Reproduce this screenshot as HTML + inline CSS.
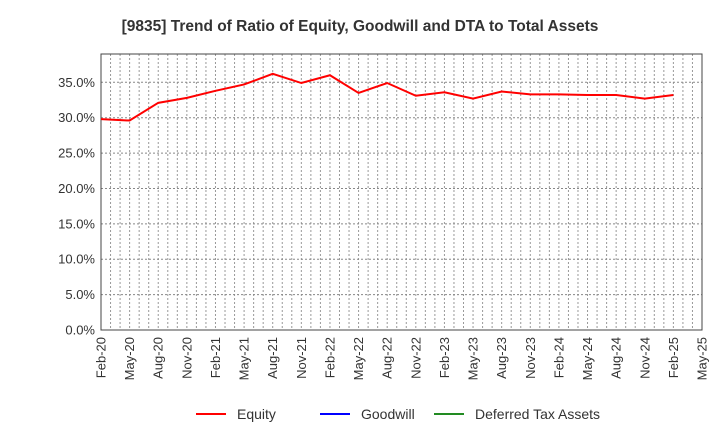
<!DOCTYPE html>
<html><head><meta charset="utf-8"><style>
body{margin:0;background:#fff;font-family:"Liberation Sans",sans-serif}
</style></head><body>
<svg width="720" height="440" xmlns="http://www.w3.org/2000/svg">
<text x="360" y="31" text-anchor="middle" font-size="15.5" font-weight="bold" fill="#333">[9835]  Trend of Ratio of Equity, Goodwill and DTA to Total Assets</text>
<g id="grid"></g>
<g id="axes"></g>
<g id="series"></g>
<g font-size="14" fill="#333">
<line x1="196" y1="414" x2="226" y2="414" stroke="#ff0000" stroke-width="2"/>
<text x="237" y="419">Equity</text>
<line x1="320" y1="414" x2="350" y2="414" stroke="#0000ff" stroke-width="2"/>
<text x="361" y="419">Goodwill</text>
<line x1="434" y1="414" x2="464" y2="414" stroke="#228b22" stroke-width="2"/>
<text x="475" y="419">Deferred Tax Assets</text>
</g>
</svg>
<script>
const categories=["Feb-20","May-20","Aug-20","Nov-20","Feb-21","May-21","Aug-21","Nov-21","Feb-22","May-22","Aug-22","Nov-22","Feb-23","May-23","Aug-23","Nov-23","Feb-24","May-24","Aug-24","Nov-24","Feb-25","May-25"];
const equity=[29.8,29.6,32.1,32.8,33.8,34.7,36.2,34.9,36.0,33.5,34.9,33.1,33.6,32.7,33.7,33.3,33.3,33.2,33.2,32.7,33.2];
const yTicks=[0,5,10,15,20,25,30,35];
const L=101,R=702,T=54,B=330,YMAX=39;
const ns="http://www.w3.org/2000/svg";
const x=i=>L+(R-L)*i/(categories.length-1);
const y=v=>B-(B-T)*v/YMAX;
function mk(tag,attrs,parent){const e=document.createElementNS(ns,tag);for(const k in attrs)e.setAttribute(k,attrs[k]);document.getElementById(parent).appendChild(e);return e;}
for(let m=1;m<(categories.length-1)*3;m++){
 const xx=L+(R-L)*m/((categories.length-1)*3);
 const g=mk("line",{x1:xx,x2:xx,y1:T,y2:B,stroke:"#999","stroke-dasharray":"2,2","stroke-width":1},"grid");
 
 
}
yTicks.forEach(v=>{
 if(v>0){const g=mk("line",{x1:L,x2:R,y1:y(v),y2:y(v),stroke:"#888","stroke-dasharray":"2,2","stroke-width":1},"grid");
 
 }
 const t=mk("text",{x:L-6,y:y(v)+4.5,"text-anchor":"end","font-size":13,fill:"#333"},"axes");
 t.textContent=v.toFixed(1)+"%";
 
 
});
const fr=mk("rect",{x:L,y:T,width:R-L,height:B-T,fill:"none",stroke:"#444","stroke-width":1},"axes");


categories.forEach((c,i)=>{
 const t=mk("text",{transform:`translate(${x(i)+4.5},337) rotate(-90)`,"text-anchor":"end","font-size":13,fill:"#333"},"axes");
 t.textContent=c;
 
 
});
const p=mk("polyline",{points:equity.map((v,i)=>x(i)+","+y(v)).join(" "),fill:"none",stroke:"#ff0000","stroke-width":2},"series");


</script>
</body></html>
